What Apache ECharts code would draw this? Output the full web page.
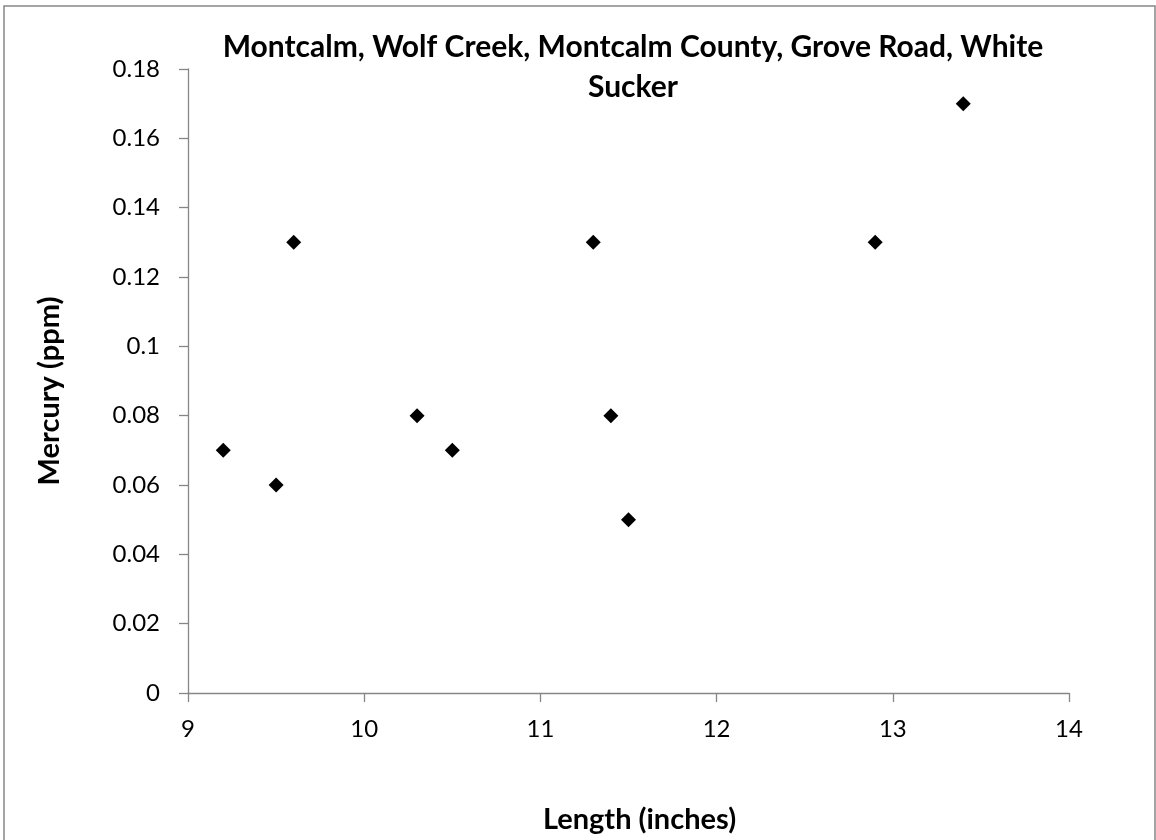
<!DOCTYPE html>
<html>
<head>
<meta charset="utf-8">
<script src="https://cdn.jsdelivr.net/npm/echarts@6/dist/echarts.min.js"></script>
<style>
html,body{margin:0;padding:0;background:#fff;}
#chart{width:1156px;height:840px;}
</style>
</head>
<body>
<div id="chart"></div>
<script>
const titleText = 'Montcalm, Wolf Creek, Montcalm County, Grove Road, White\nSucker';
const xName = 'Length (inches)';
const yName = 'Mercury (ppm)';
const lengths = [9.2, 9.5, 9.6, 10.3, 10.5, 11.3, 11.4, 11.5, 12.9, 13.4];
const mercury = [0.07, 0.06, 0.13, 0.08, 0.07, 0.13, 0.08, 0.05, 0.13, 0.17];
const xMin = 9, xMax = 14, xStep = 1;
const yMin = 0, yMax = 0.18, yStep = 0.02;

const points = lengths.map((x, i) => [x, mercury[i]]);
const FONT = 'Lato';
const axisGray = '#868686';

const chart = echarts.init(document.getElementById('chart'), null, {renderer: 'canvas'});
chart.setOption({
  animation: false,
  backgroundColor: '#fff',
  textStyle: {fontFamily: FONT},
  graphic: [{
    type: 'rect',
    shape: {x: 4, y: 6, width: 1151, height: 900},
    style: {fill: 'none', stroke: '#868686', lineWidth: 1.5},
    silent: true
  }],
  title: {
    text: titleText,
    left: 628, top: 22, textAlign: 'center',
    textStyle: {fontFamily: FONT, fontWeight: 'bold', fontSize: 30, color: '#000', lineHeight: 40}
  },
  grid: {left: 188, right: 87, top: 69, bottom: 147, containLabel: false},
  xAxis: {
    type: 'value', min: xMin, max: xMax, interval: xStep,
    name: xName, nameLocation: 'middle', nameGap: 112,
    nameTextStyle: {fontFamily: FONT, fontWeight: 'bold', fontSize: 29, color: '#000', padding: [0, 0, 0, 22]},
    axisLine: {show: true, lineStyle: {color: axisGray, width: 1.3}},
    axisTick: {show: true, inside: false, length: 9, lineStyle: {color: axisGray, width: 1.3}},
    axisLabel: {fontFamily: FONT, fontSize: 24, color: '#000', margin: 24},
    splitLine: {show: false}
  },
  yAxis: {
    type: 'value', min: yMin, max: yMax, interval: yStep,
    name: yName, nameLocation: 'middle', nameGap: 124, nameRotate: 90,
    nameTextStyle: {fontFamily: FONT, fontWeight: 'bold', fontSize: 29, color: '#000', padding: [0, 20, 0, 0]},
    axisLine: {show: true, lineStyle: {color: axisGray, width: 1.3}},
    axisTick: {show: true, inside: false, length: 9, lineStyle: {color: axisGray, width: 1.3}},
    axisLabel: {fontFamily: FONT, fontSize: 24, color: '#000', margin: 28,
      formatter: v => String(+v.toFixed(2))},
    splitLine: {show: false}
  },
  series: [{
    type: 'scatter',
    data: points,
    symbol: 'diamond',
    symbolSize: [15, 15],
    itemStyle: {color: '#000', opacity: 1}
  }]
});
</script>
</body>
</html>
